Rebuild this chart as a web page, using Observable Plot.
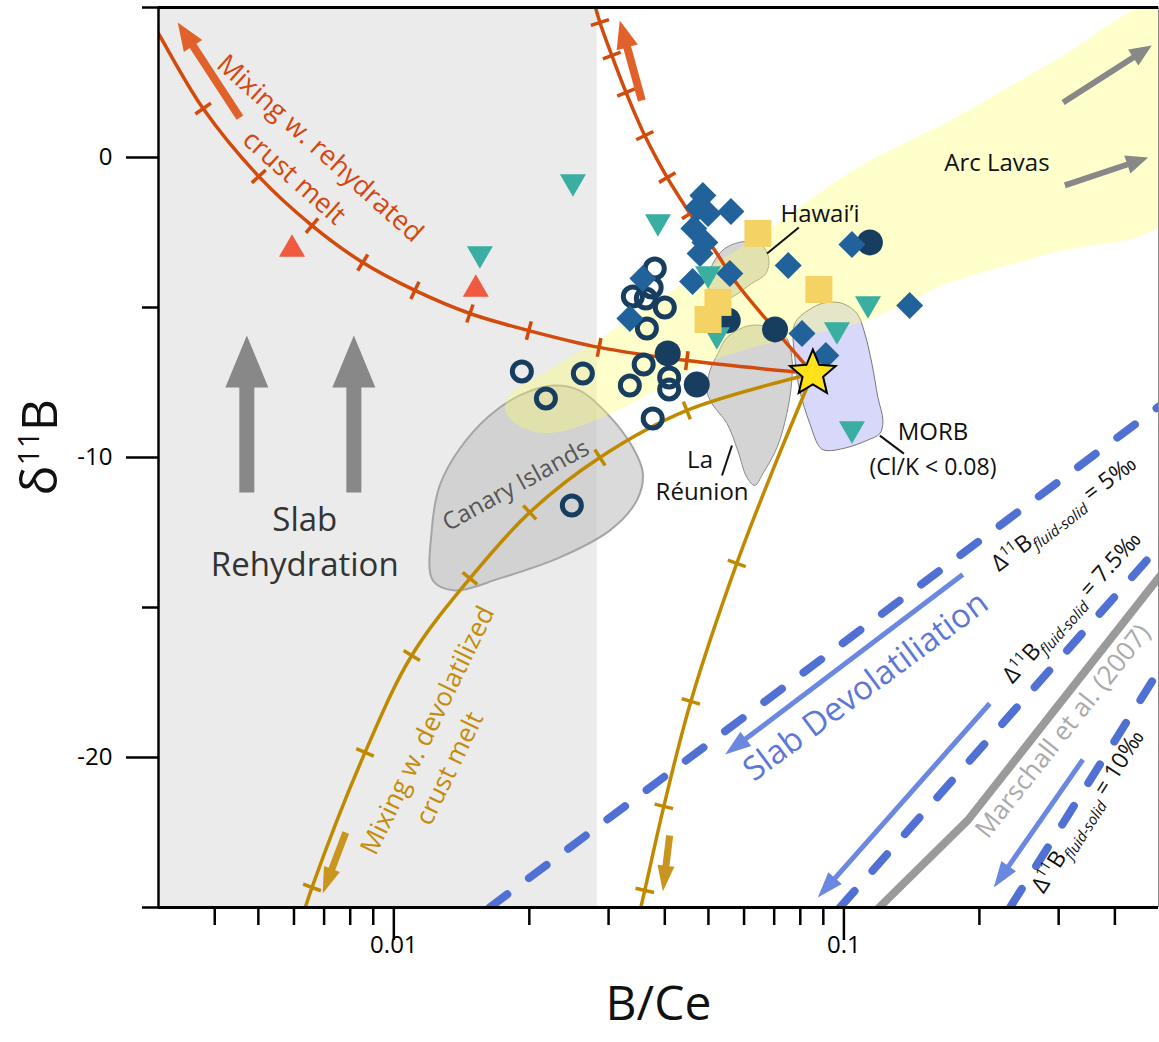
<!DOCTYPE html>
<html><head><meta charset="utf-8">
<script src="https://cdn.jsdelivr.net/npm/d3@7"></script>
<script src="https://cdn.jsdelivr.net/npm/@observablehq/plot@0.6"></script>
<style>body{margin:0;background:#fff;} svg{display:block;}</style>
</head><body><div id="chart"></div>
<script>
// ---------------- DATA ----------------
const xDomain = [0.003, 0.5];
const yDomain = [-25, 5];
const xMajorTicks = [0.01, 0.1];
const xMajorLabels = ["0.01", "0.1"];
const xMinorTicks = [0.004,0.005,0.006,0.007,0.008,0.009,0.02,0.03,0.04,0.05,0.06,0.07,0.08,0.09,0.2,0.3,0.4];
const yMajorTicks = [0, -10, -20];
const yMinorTicks = [5, -5, -15, -25];
const rehydrationZone = [0.003, 0.0283];

// samples [B/Ce, d11B]
const tealTriangles = [[0.0250,-0.93],[0.01553,-3.33],[0.03862,-2.27],[0.0499,-4.0],[0.0522,-6.03],[0.0965,-5.87],[0.1131,-5.0],[0.1042,-9.17]];
const redTriangles = [[0.00594,-2.93],[0.01521,-4.27]];
const openCircles = [[0.0380,-3.7],[0.0374,-4.33],[0.03397,-4.63],[0.0363,-4.7],[0.0400,-5.0],[0.0365,-5.7],[0.01925,-7.13],[0.0263,-7.2],[0.02177,-8.03],[0.0359,-6.9],[0.03345,-7.6],[0.0409,-7.33],[0.0409,-7.73],[0.0376,-8.7],[0.02486,-11.6]];
const filledCircles = [[0.0406,-6.53],[0.0471,-7.57],[0.0552,-5.43],[0.0703,-5.73],[0.1142,-2.83]];
const diamonds = [[0.0486,-1.27],[0.0474,-1.67],[0.0499,-1.87],[0.0561,-1.8],[0.0464,-2.37],[0.0491,-2.83],[0.0479,-3.2],[0.0461,-4.13],[0.0558,-3.87],[0.0752,-3.6],[0.1042,-2.9],[0.140,-4.93],[0.0807,-5.87],[0.0912,-6.6],[0.03575,-4.03],[0.03345,-5.37]];
const squares = [[0.0644,-2.53],[0.0880,-4.4],[0.0525,-4.83],[0.0499,-5.4]];
const morbEndmember = [[0.0853,-7.2]];

// fields (outlines) [B/Ce, d11B]
const hawaiiField = [[0.0499,-4.27],[0.0509,-3.6],[0.0544,-3.03],[0.0603,-2.8],[0.0657,-2.93],[0.0681,-3.37],[0.0671,-3.87],[0.0624,-4.2],[0.0572,-4.6],[0.0525,-4.83]];
const reunionField = [[0.0525,-6.53],[0.0550,-6.0],[0.0618,-5.6],[0.0695,-5.7],[0.0747,-6.03],[0.0766,-6.67],[0.0766,-7.43],[0.0747,-8.53],[0.0710,-9.67],[0.0661,-10.53],[0.0634,-10.93],[0.0609,-10.67],[0.0581,-9.77],[0.0550,-8.87],[0.0509,-8.2],[0.0496,-7.77],[0.0504,-7.1]];
const morbField = [[0.0778,-5.53],[0.0853,-5.0],[0.0917,-4.83],[0.0995,-4.87],[0.1069,-5.2],[0.1113,-5.87],[0.1154,-6.87],[0.1190,-8.0],[0.1221,-8.77],[0.1202,-9.2],[0.1125,-9.43],[0.1015,-9.67],[0.0917,-9.77],[0.0885,-9.67],[0.0840,-8.87],[0.0798,-7.77],[0.0778,-6.67]];
const canaryField = [[0.01221,-14.1],[0.01214,-12.43],[0.01265,-10.93],[0.01402,-9.7],[0.01633,-8.6],[0.01905,-7.93],[0.02256,-7.6],[0.0259,-7.77],[0.02974,-8.53],[0.03397,-9.67],[0.03575,-10.53],[0.03467,-11.43],[0.0302,-12.43],[0.02338,-13.33],[0.0172,-14.03],[0.01366,-14.43]];
const arcLavaField = [[0.530,5.17],[0.2869,3.13],[0.172,1.23],[0.1047,-0.43],[0.0651,-2.6],[0.0479,-3.83],[0.039,-4.7],[0.02826,-6.1],[0.02111,-7.27],[0.01829,-7.83],[0.01765,-8.37],[0.01829,-8.77],[0.02004,-9.1],[0.02279,-9.17],[0.0287,-8.7],[0.03707,-7.87],[0.0479,-6.93],[0.0651,-6.27],[0.1125,-5.43],[0.172,-4.17],[0.2869,-3.2],[0.530,-1.97]];

// mixing curves [B/Ce, d11B, tickmark]
const rehydratedMelt1 = [[0.0028,4.9,0],[0.00299,4.17,0],[0.00377,1.63,1],[0.00501,-0.63,1],[0.00658,-2.27,1],[0.00853,-3.5,1],[0.01114,-4.43,1],[0.01476,-5.2,1],[0.01995,-5.77,1],[0.02858,-6.33,1],[0.04477,-6.77,1],[0.0853,-7.2,0]];
const rehydratedMelt2 = [[0.0853,-7.2,0],[0.0675,-5.43,0],[0.0578,-4.2,0],[0.0522,-3.2,0],[0.0455,-1.87,1],[0.0405,-0.67,1],[0.0361,0.73,1],[0.0328,2.17,1],[0.0305,3.4,1],[0.0287,4.5,1],[0.0275,5.5,0]];
const devolatilizedMelt1 = [[0.0853,-7.2,0],[0.04477,-8.43,1],[0.0287,-10.0,1],[0.02004,-11.83,1],[0.01476,-14.03,1],[0.01096,-16.6,1],[0.00863,-19.83,1],[0.00658,-24.33,1],[0.00618,-25.6,0]];
const devolatilizedMelt2 = [[0.0853,-7.2,0],[0.0699,-10.33,0],[0.0578,-13.53,1],[0.0457,-18.13,1],[0.0398,-21.63,1],[0.0361,-24.43,1],[0.0350,-25.3,0]];

// fractionation lines
const delta5 = [[0.01633,-25],[0.501,-8.3]];
const delta75 = [[0.098,-25],[0.501,-12.97]];
const delta10 = [[0.234,-25],[0.501,-17.1]];
const marschall = [[0.1197,-25],[0.1888,-22.08],[0.501,-14.0]];

// arrows [tail, head]
const rehydrationArrows = [[[0.004714,-11.17],[0.004714,-5.93]],[[0.00815,-11.17],[0.00815,-5.93]]];
const arcArrows = [[[0.3069,1.83],[0.483,3.73]],[[0.3097,-0.93],[0.4742,0.0]]];
const devolArrows = [[[0.1837,-13.9],[0.05445,-19.9]],[[0.2109,-18.2],[0.0875,-24.67]],[[0.3396,-20.07],[0.2153,-24.33]]];
const rehydratedArrows = [[[0.00455,1.33],[0.00331,4.5]],[[0.03556,1.9],[0.03177,4.57]]];
const devolatilizedArrows = [[[0.00782,-22.5],[0.00695,-24.53]],[[0.0410,-22.6],[0.0396,-24.47]]];

// leader lines
const leaders = [[[0.0794,-2.33],[0.0675,-3.2]],[[0.0536,-10.6],[0.0564,-9.6]],[[0.1202,-9.27],[0.1359,-9.87]]];

// annotations
const labels = [
  {t:"Slab", b:0.00634, d:-12.1, r:0, fs:33, c:"#333"},
  {t:"Rehydration", b:0.00634, d:-13.6, r:0, fs:33, c:"#333"},
  {t:"Arc Lavas", b:0.2188, d:-0.2, r:0, fs:24, c:"#111"},
  {t:"Hawai’i", b:0.0885, d:-1.9, r:0, fs:24, c:"#111"},
  {t:"MORB", b:0.1577, d:-9.17, r:0, fs:24, c:"#111"},
  {t:"(Cl/K < 0.08)", b:0.1577, d:-10.33, r:0, fs:23, c:"#111"},
  {t:"La", b:0.0479, d:-10.1, r:0, fs:24, c:"#111"},
  {t:"Réunion", b:0.0484, d:-11.17, r:0, fs:24, c:"#111"},
  {t:"Canary Islands", b:0.01867, d:-10.93, r:-28.8, fs:24, c:"#555"},
  {t:"Mixing w. rehydrated", b:0.00685, d:0.3, r:41.8, fs:27, c:"#d2480f"},
  {t:"crust melt", b:0.0060, d:-0.67, r:41.6, fs:27, c:"#d2480f"},
  {t:"Mixing w. devolatilized", b:0.0119, d:-19.1, r:-64, fs:26, c:"#c48c08"},
  {t:"crust melt", b:0.01331, d:-20.37, r:-64, fs:26, c:"#c48c08"},
  {t:"Slab Devolatiliation", b:0.1119, d:-17.63, r:-36.4, fs:33, c:"#5b78d8"},
  {t:"Δ11B fluid-solid = 5‰", b:0.3082, d:-11.87, r:-37.2, fs:23, c:"#111"},
  {t:"Δ11B fluid-solid = 7.5‰", b:0.321, d:-15.0, r:-48.1, fs:23, c:"#111"},
  {t:"Marschall et al. (2007)", b:0.3069, d:-19.13, r:-51.6, fs:26, c:"#aaa"},
  {t:"Δ11B fluid-solid = 10‰", b:0.3485, d:-21.8, r:-57.3, fs:23, c:"#111"}
];

// ---------------- LAYOUT ----------------
const W = 1159, H = 1042, ML = 158, MR = 1, MT = 7, MB = 135;
const FONT = "'Open Sans', 'Noto Sans', sans-serif";
const sx = Plot.scale({x: {type: "log", domain: xDomain, range: [ML, W - MR]}});
const sy = Plot.scale({y: {type: "linear", domain: yDomain, range: [H - MB, MT]}});
const P = (pt) => [sx.apply(pt[0]), sy.apply(pt[1])];

function tickMarks(curve) {
  const out = [];
  curve.forEach((pt, i) => {
    if (!pt[2]) return;
    const a = P(curve[Math.max(0, i - 1)]), c = P(curve[Math.min(curve.length - 1, i + 1)]);
    const ang = Math.atan2(c[0] - a[0], -(c[1] - a[1])) * 180 / Math.PI + 90;
    out.push({b: pt[0], d: pt[1], rot: ang});
  });
  return out;
}
function arrowData(list) {
  return list.map(([t, h]) => {
    const a = P(t), e = P(h), dx = e[0] - a[0], dy = e[1] - a[1];
    return {b: t[0], d: t[1], len: Math.hypot(dx, dy), rot: Math.atan2(dx, -dy) * 180 / Math.PI};
  });
}
const bar = {draw(c, l) { c.moveTo(0, 0); c.lineTo(0, -l); }};
function blockArrow(w, hl, hw) {
  return {draw(c, l) {
    const s = l - hl;
    c.moveTo(-w / 2, 0); c.lineTo(-w / 2, -s); c.lineTo(-hw / 2, -s); c.lineTo(0, -l);
    c.lineTo(hw / 2, -s); c.lineTo(w / 2, -s); c.lineTo(w / 2, 0); c.closePath();
  }};
}
const R = (size) => Math.sqrt(size / Math.PI);
const symUp = {draw(c, size) { const r = R(size), h = r * Math.sqrt(3); c.moveTo(0, -h / 2); c.lineTo(r, h / 2); c.lineTo(-r, h / 2); c.closePath(); }};
const symDown = {draw(c, size) { const r = R(size), h = r * Math.sqrt(3); c.moveTo(-r, -h / 2); c.lineTo(r, -h / 2); c.lineTo(0, h / 2); c.closePath(); }};
const symDiamond = {draw(c, size) { const r = R(size); c.moveTo(0, -r); c.lineTo(r, 0); c.lineTo(0, r); c.lineTo(-r, 0); c.closePath(); }};
const symSquare = {draw(c, size) { const r = R(size); c.moveTo(-r, -r); c.lineTo(r, -r); c.lineTo(r, r); c.lineTo(-r, r); c.closePath(); }};
const symStar = {draw(c, size) {
  const r = R(size), ri = r * 0.45;
  for (let k = 0; k < 10; k++) {
    const a = -Math.PI / 2 + k * Math.PI / 5, rr = k % 2 ? ri : r;
    const px = rr * Math.cos(a), py = rr * Math.sin(a);
    k ? c.lineTo(px, py) : c.moveTo(px, py);
  }
  c.closePath();
}};

const XY = {x: d => d[0], y: d => d[1]};
const vec = {x: "b", y: "d", rotate: "rot"};

const RED = "#d24a0c", GOLD = "#c08a00", BLUE = "#5170d3", LBLUE = "#6a88e0";
const NAVY = "#173d5f", DIAM = "#21629b", TEAL = "#3aaea0";

const marks = [
  Plot.rect([rehydrationZone], {x1: d => d[0], x2: d => d[1], y1: yDomain[0], y2: yDomain[1], fill: "#ebebeb"}),
  // fields
  Plot.line(canaryField, {...XY, curve: "catmull-rom-closed", fill: "#c4c4c4", fillOpacity: 0.62, stroke: "#a5a5a5", strokeWidth: 2}),
  Plot.line(hawaiiField, {...XY, curve: "catmull-rom-closed", fill: "#d4d4d4", stroke: "#8a8a8a", strokeWidth: 1}),
  Plot.line(reunionField, {...XY, curve: "catmull-rom-closed", fill: "#d4d4d4", stroke: "#8a8a8a", strokeWidth: 1}),
  Plot.line(morbField, {...XY, curve: "catmull-rom-closed", fill: "#d8d8fa", stroke: "#777", strokeWidth: 1}),
  Plot.line(arcLavaField, {...XY, curve: "catmull-rom-closed", fill: "#ffff6a", fillOpacity: 0.34, stroke: "none", clip: true}),
  // fractionation lines
  Plot.line(marschall, {...XY, stroke: "#9a9a9a", strokeWidth: 8, strokeLinecap: "round", clip: true}),
  ...[delta5, delta75, delta10].map(l => Plot.line(l, {...XY, stroke: BLUE, strokeWidth: 8, strokeDasharray: "22 27", strokeLinecap: "round", clip: true})),
  // mixing curves
  ...[rehydratedMelt1, rehydratedMelt2].map(cv => Plot.line(cv, {...XY, curve: "catmull-rom", stroke: RED, strokeWidth: 3.5, clip: true})),
  ...[rehydratedMelt1, rehydratedMelt2].map(cv => Plot.vector(tickMarks(cv), {...vec, length: 19, anchor: "middle", shape: bar, stroke: RED, strokeWidth: 3.5, strokeLinecap: "butt"})),
  ...[devolatilizedMelt1, devolatilizedMelt2].map(cv => Plot.line(cv, {...XY, curve: "catmull-rom", stroke: GOLD, strokeWidth: 3.5, clip: true})),
  ...[devolatilizedMelt1, devolatilizedMelt2].map(cv => Plot.vector(tickMarks(cv), {...vec, length: 19, anchor: "middle", shape: bar, stroke: GOLD, strokeWidth: 3.5, strokeLinecap: "butt"})),
  // arrows
  Plot.vector(arrowData(rehydrationArrows), {...vec, length: "len", anchor: "start", shape: blockArrow(15, 52, 43), fill: "#888", stroke: "none"}),
  Plot.vector(arrowData(arcArrows), {...vec, length: "len", anchor: "start", shape: blockArrow(6, 22, 19), fill: "#888", stroke: "none"}),
  Plot.vector(arrowData(devolArrows), {...vec, length: "len", anchor: "start", shape: blockArrow(5, 26, 18), fill: LBLUE, stroke: "none"}),
  Plot.vector(arrowData(rehydratedArrows), {...vec, length: "len", anchor: "start", shape: blockArrow(8, 28, 22), fill: "#e0622a", stroke: "none"}),
  Plot.vector(arrowData(devolatilizedArrows), {...vec, length: "len", anchor: "start", shape: blockArrow(7, 26, 17), fill: "#c9951e", stroke: "none"}),
  // leaders
  Plot.link(leaders, {x1: d => d[0][0], y1: d => d[0][1], x2: d => d[1][0], y2: d => d[1][1], stroke: "#111", strokeWidth: 2}),
  // samples
  Plot.dot(openCircles, {...XY, r: 9.5, fill: "none", stroke: NAVY, strokeWidth: 5}),
  Plot.dot(filledCircles, {...XY, r: 13, fill: NAVY, stroke: "none"}),
  Plot.dot(diamonds, {...XY, r: 13.5, symbol: symDiamond, fill: DIAM, stroke: "none"}),
  Plot.dot(tealTriangles, {...XY, r: 13, symbol: symDown, fill: TEAL, stroke: "none"}),
  Plot.dot(redTriangles, {...XY, r: 13, symbol: symUp, fill: "#ef5a40", stroke: "none"}),
  Plot.dot(squares, {...XY, r: 13.5, symbol: symSquare, fill: "#f5d264", stroke: "none"}),
  Plot.dot(morbEndmember, {...XY, r: 24, symbol: symStar, fill: "#ffe21a", stroke: "#000", strokeWidth: 2, strokeLinejoin: "miter"}),
  // labels
  ...labels.map(l => Plot.text([l], {x: "b", y: "d", text: "t", rotate: l.r, fontSize: l.fs, fill: l.c})),
  // frame
  Plot.ruleX([xDomain[1]], {stroke: "#888", strokeWidth: 1}),
  Plot.ruleY([yDomain[1]], {stroke: "#000", strokeWidth: 3}),
  Plot.ruleY([yDomain[0]], {stroke: "#000", strokeWidth: 3}),
  Plot.ruleX([xDomain[0]], {stroke: "#000", strokeWidth: 2.5}),
  // axes
  Plot.axisY({ticks: yMajorTicks, tickSize: 32, tickPadding: 14, fontSize: 24, strokeWidth: 2.5, tickFormat: d => String(d), label: null}),
  Plot.axisY({ticks: yMinorTicks, tickSize: 16, strokeWidth: 2.5, tickFormat: () => "", label: null}),
  Plot.axisX({ticks: xMajorTicks, tickSize: 33, tickPadding: -5, fontSize: 24, strokeWidth: 2.5, tickFormat: d => xMajorLabels[xMajorTicks.indexOf(d)], label: null}),
  Plot.axisX({ticks: xMinorTicks, tickSize: 18, strokeWidth: 2.5, tickFormat: () => "", label: null}),
  Plot.text(["B/Ce"], {frameAnchor: "bottom", dy: 112, text: d => d, fontSize: 48, fill: "#111"}),
  Plot.text(["δ11B"], {frameAnchor: "left", dx: -118, dy: 38, rotate: -90, text: d => d, fontSize: 50, fill: "#111"})
];

const svg = Plot.plot({
  width: W, height: H, marginLeft: ML, marginRight: MR, marginTop: MT, marginBottom: MB,
  x: {type: "log", domain: xDomain, axis: null},
  y: {domain: yDomain, axis: null},
  length: {type: "identity"},
  style: {fontFamily: FONT, background: "#fff", overflow: "visible"},
  marks
});

// rich text: superscripts and subscripts
const NS = "http://www.w3.org/2000/svg";
function rich(t, parts) {
  while (t.firstChild) t.removeChild(t.firstChild);
  for (const [s, o] of parts) {
    const ts = document.createElementNS(NS, "tspan");
    ts.textContent = s;
    if (o.fs) ts.setAttribute("font-size", o.fs);
    if (o.dy) ts.setAttribute("dy", o.dy);
    if (o.it) ts.setAttribute("font-style", "italic");
    t.appendChild(ts);
  }
}
svg.querySelectorAll("text").forEach(t => {
  const s = t.textContent;
  if (s.startsWith("Δ11B fluid-solid")) {
    const rest = s.slice("Δ11B fluid-solid".length);
    rich(t, [["Δ", {}], ["11", {fs: 14, dy: -9}], ["B", {dy: 9}], ["fluid-solid", {fs: 15, dy: 6, it: true}], [rest, {dy: -6}]]);
  } else if (s === "δ11B") {
    rich(t, [["δ", {}], ["11", {fs: 30, dy: -18}], ["B", {dy: 18}]]);
  }
});
document.getElementById("chart").appendChild(svg);
</script></body></html>
